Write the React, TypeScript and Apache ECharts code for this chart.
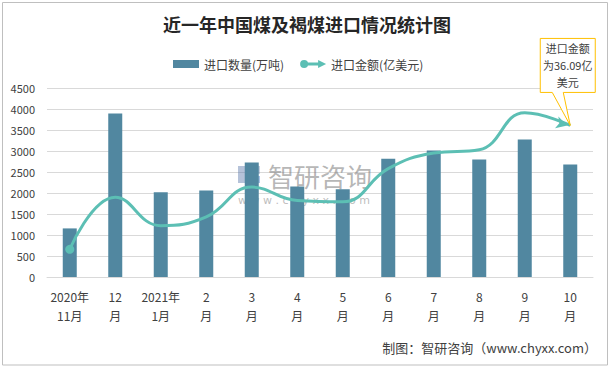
import React, { useEffect, useRef } from "react";
import * as echarts from "echarts";

const categories = ["2020年\n11月", "12\n月", "2021年\n1月", "2\n月", "3\n月", "4\n月", "5\n月", "6\n月", "7\n月", "8\n月", "9\n月", "10\n月"];
const importVolume = [1157, 3890, 2015, 2062, 2728, 2157, 2090, 2815, 3012, 2798, 3273, 2680];
const importValue = [6.6, 19.0, 12.2, 14.3, 21.4, 18.2, 17.9, 25.8, 29.5, 30.3, 39.1, 36.09];
const volumeName = "进口数量(万吨)";
const valueName = "进口金额(亿美元)";
const titleText = "近一年中国煤及褐煤进口情况统计图";
const calloutLines = ["进口金额", "为36.09亿", "美元"];
const sourceText = "制图：智研咨询（www.chyxx.com）";

const FONT = "'Noto Sans CJK SC', 'Noto Sans', sans-serif";

export default function App() {
  const ref = useRef<HTMLDivElement>(null);
  useEffect(() => {
    if (!ref.current) return;
    const chart = echarts.init(ref.current, undefined, { renderer: "svg" });
    const lineData = importValue.map((v, i) => {
      if (i === 0) return { value: v, symbol: "circle", symbolSize: 9 };
      if (i === importValue.length - 1)
        return { value: v, symbol: "arrow", symbolSize: [9, 11], symbolRotate: -106, symbolOffset: [-3, 0] };
      return { value: v, symbol: "none", symbolSize: 0 };
    });
    const option: any = {
      animation: false,
      backgroundColor: "#ffffff",
      title: {
        text: titleText,
        left: "center",
        top: 10,
        textStyle: { fontFamily: FONT, fontSize: 18, fontWeight: "bold", color: "#262626" },
      },
      legend: {
        top: 53,
        left: 168,
        itemGap: 16,
        itemWidth: 26,
        itemHeight: 8,
        textStyle: { fontFamily: FONT, fontSize: 12, color: "#404040" },
        data: [
          { name: volumeName, icon: "rect" },
          {
            name: valueName,
            icon: "path://M0,4 A4,4 0 1,1 8,4 A4,4 0 1,1 0,4 Z M6,2.6 L20,2.6 L20,5.4 L6,5.4 Z M18,0 L26,4 L18,8 Z",
          },
        ],
      },
      grid: { left: 47, right: 21, top: 88, bottom: 92 },
      xAxis: {
        type: "category",
        data: categories,
        axisLine: { show: true, lineStyle: { color: "#D9D9D9" } },
        axisTick: { show: false },
        axisLabel: { fontFamily: FONT, fontSize: 12, color: "#404040", lineHeight: 19, margin: 10, interval: 0 },
      },
      yAxis: [
        {
          type: "value",
          min: 0,
          max: 4500,
          interval: 500,
          axisLine: { show: false },
          axisTick: { show: false },
          splitLine: { lineStyle: { color: "#D9D9D9" } },
          axisLabel: {
            fontFamily: FONT,
            fontSize: 11,
            color: "#404040",
            margin: 12,
            formatter: (v: number) => String(v),
          },
        },
        {
          type: "value",
          min: 0,
          max: 45,
          interval: 5,
          show: false,
          splitLine: { show: false },
        },
      ],
      series: [
        {
          name: volumeName,
          type: "bar",
          data: importVolume,
          barWidth: 14,
          itemStyle: { color: "#5187A0" },
          z: 2,
        },
        {
          name: valueName,
          type: "line",
          yAxisIndex: 1,
          data: lineData,
          smooth: 0.45,
          showSymbol: true,
          showAllSymbol: true,
          lineStyle: { color: "#5CBFB4", width: 3 },
          itemStyle: { color: "#5CBFB4" },
          z: 3,
        },
      ],
    };
    chart.setOption(option);

    const tip = chart.convertToPixel({ seriesIndex: 1 }, [importValue.length - 1, importValue[importValue.length - 1]]) as number[];
    const tx = tip[0];
    const ty = tip[1];
    const bl = tx - 30, br = tx + 25, bt = ty - 87, bb = ty - 33;
    chart.setOption({
      graphic: [
        {
          type: "rect",
          shape: { x: 2.5, y: 2.5, width: 605, height: 362.5 },
          style: { fill: "none", stroke: "#BFBFBF", lineWidth: 1 },
          silent: true,
          z: 0,
        },
        {
          type: "group",
          z: 10,
          silent: true,
          children: [
            {
              type: "rect",
              shape: { x: 238, y: 166, width: 9, height: 17 },
              style: { fill: "rgba(90,120,170,0.45)" },
            },
            {
              type: "rect",
              shape: { x: 249, y: 166, width: 11, height: 8 },
              style: { fill: "rgba(90,120,170,0.35)" },
            },
            {
              type: "rect",
              shape: { x: 249, y: 176, width: 11, height: 7 },
              style: { fill: "rgba(60,120,200,0.45)" },
            },
            {
              type: "text",
              style: {
                x: 268,
                y: 175,
                text: "智研咨询",
                fill: "rgba(120,120,120,0.55)",
                font: "26px " + FONT,
                textVerticalAlign: "middle",
                textBaseline: "middle",
              },
            },
            {
              type: "text",
              style: {
                x: 238,
                y: 200,
                text: "w w w . c h y x x . c o m",
                fill: "rgba(120,120,120,0.5)",
                font: "11px 'DejaVu Sans', sans-serif",
                textBaseline: "middle",
                textVerticalAlign: "middle",
              },
            },
          ],
        },
        {
          type: "polygon",
          z: 20,
          silent: true,
          shape: {
            points: [
              [bl, bt],
              [br, bt],
              [br, bb],
              [tx - 7, bb],
              [tx, ty],
              [tx - 18, bb],
              [bl, bb],
            ],
          },
          style: { fill: "#ffffff", stroke: "#FFC000", lineWidth: 1 },
        },
        ...calloutLines.map((t, i) => ({
          type: "text",
          z: 21,
          silent: true,
          style: {
            x: (bl + br) / 2,
            y: bt + 10 + i * 17,
            text: t,
            fill: "#404040",
            font: "11px " + FONT,
            textAlign: "center",
            textBaseline: "middle",
            textVerticalAlign: "middle",
          },
        })),
        {
          type: "text",
          z: 21,
          silent: true,
          style: {
            x: 597,
            y: 347,
            text: sourceText,
            fill: "#404040",
            font: "13px " + FONT,
            textAlign: "right",
            textBaseline: "middle",
            textVerticalAlign: "middle",
          },
        },
      ],
    });
    return () => chart.dispose();
  }, []);
  return <div ref={ref} style={{ position: "absolute", left: 0, top: 0, width: 614, height: 369 }} />;
}
